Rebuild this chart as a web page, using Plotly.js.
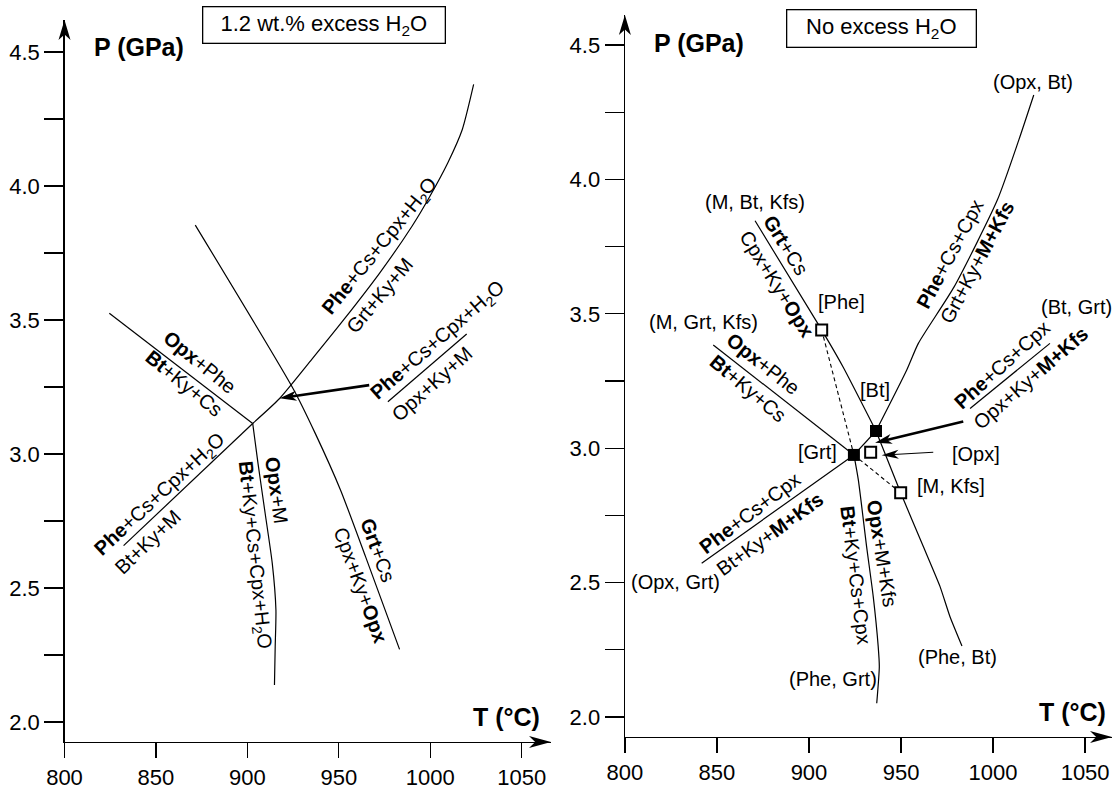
<!DOCTYPE html>
<html><head><meta charset="utf-8">
<script src="https://cdn.plot.ly/plotly-3.0.1.min.js"></script>
<style>html,body{margin:0;padding:0;background:#fff}#chart{width:1117px;height:790px}</style>
</head><body><div id="chart"></div>
<script>
// ---------------- DATA ----------------
const tempTicks = [800, 850, 900, 950, 1000, 1050];
const presTicks = [2.0, 2.25, 2.5, 2.75, 3.0, 3.25, 3.5, 3.75, 4.0, 4.25, 4.5];
const presTickLabels = ['2.0', '', '2.5', '', '3.0', '', '3.5', '', '4.0', '', '4.5'];

// Left panel: 1.2 wt.% excess H2O  (T in °C, P in GPa)
const L_grtKyM_T = [902.9, 917.6, 935.2, 952.8, 972.4, 990.0, 999.8, 1009.6, 1017.5, 1023.7];
const L_grtKyM_P = [3.114, 3.207, 3.353, 3.502, 3.676, 3.850, 3.962, 4.087, 4.211, 4.379];
const L_btKyM_T = [902.9, 832.3];
const L_btKyM_P = [3.114, 2.658];
const L_opxPhe_T = [824.5, 902.9];
const L_opxPhe_P = [3.525, 3.114];
const L_opxM_T = [902.9, 905.8, 909.7, 913.6, 915.6, 915.2, 914.8];
const L_opxM_P = [3.114, 2.965, 2.779, 2.592, 2.418, 2.281, 2.138];
const L_grtCs_T = [871.5, 925.4, 937.1, 950.9, 964.6, 983.2];
const L_grtCs_P = [3.854, 3.239, 3.077, 2.866, 2.617, 2.271];
const L_sep_T = [976.8, 1019.9];
const L_sep_P = [3.195, 3.448];
const L_arrow_T = [966.6, 917.6];
const L_arrow_P = [3.257, 3.208];

// Right panel: no excess H2O
const R_invFilled_T = [924.4, 936.4];       // [Grt], [Bt]
const R_invFilled_P = [2.975, 3.064];
const R_invOpen_T = [906.9, 933.5, 949.8];  // [Phe], [Opx], [M, Kfs]
const R_invOpen_P = [3.440, 2.985, 2.834];
const R_opxBt_T = [936.4, 953.1, 959.4, 978.9, 1002.3, 1014.0, 1022.1];
const R_opxBt_P = [3.064, 3.291, 3.390, 3.601, 3.923, 4.147, 4.314];
const R_mBtKfs_T = [936.4, 918.6, 906.9, 870.7];
const R_mBtKfs_P = [3.064, 3.301, 3.440, 3.846];
const R_mGrtKfs_T = [924.4, 848.0];
const R_mGrtKfs_P = [2.975, 3.384];
const R_opxGrt_T = [924.4, 841.7];
const R_opxGrt_P = [2.975, 2.572];
const R_grtBt_T = [924.4, 936.4];
const R_grtBt_P = [2.975, 3.064];
const R_pheGrt_T = [924.4, 926.8, 931.3, 934.9, 937.6, 938.2, 936.8];
const R_pheGrt_P = [2.975, 2.882, 2.634, 2.448, 2.262, 2.187, 2.051];
const R_pheBt_T = [936.4, 949.8, 962.1, 971.2, 976.6, 983.1];
const R_pheBt_P = [3.064, 2.834, 2.634, 2.485, 2.373, 2.264];
const R_dashPhe_T = [906.9, 924.4];
const R_dashPhe_P = [3.440, 2.975];
const R_dashMKfs_T = [924.4, 949.8];
const R_dashMKfs_P = [2.975, 2.834];
const R_sep_T = [987.5, 1030.9];
const R_sep_P = [3.148, 3.390];
const R_arrowThick_T = [983.8, 935.9];
const R_arrowThick_P = [3.099, 3.020];
const R_arrowThin_T = [967.5, 939.5];
const R_arrowThin_P = [2.985, 2.974];

// Label texts
const L_labels = ['<b>Phe</b>+Cs+Cpx+H<sub>2</sub>O', 'Grt+Ky+M', '<b>Phe</b>+Cs+Cpx+H<sub>2</sub>O', 'Opx+Ky+M',
  '<b>Opx</b>+Phe', '<b>Bt</b>+Ky+Cs', '<b>Phe</b>+Cs+Cpx+H<sub>2</sub>O', 'Bt+Ky+M',
  '<b>Opx</b>+M', '<b>Bt</b>+Ky+Cs+Cpx+H<sub>2</sub>O', '<b>Grt</b>+Cs', 'Cpx+Ky+<b>Opx</b>'];
const R_labels = ['(Opx, Bt)', '(M, Bt, Kfs)', '(M, Grt, Kfs)', '[Phe]', '[Bt]', '[Grt]', '[Opx]', '[M, Kfs]',
  '(Opx, Grt)', '(Phe, Grt)', '(Phe, Bt)', '(Bt, Grt)',
  '<b>Grt</b>+Cs', 'Cpx+Ky+<b>Opx</b>', '<b>Phe</b>+Cs+Cpx', 'Grt+Ky+<b>M+Kfs</b>',
  '<b>Phe</b>+Cs+Cpx', 'Opx+Ky+<b>M+Kfs</b>', '<b>Opx</b>+Phe', '<b>Bt</b>+Ky+Cs',
  '<b>Phe</b>+Cs+Cpx', 'Bt+Ky+<b>M+Kfs</b>', '<b>Opx</b>+M+Kfs', '<b>Bt</b>+Ky+Cs+Cpx'];

// ---------------- PLACEMENT (layout) ----------------
const L_labelPos = [[972.5,3.776,-51],[972.5,3.593,-50],[1004.4,3.425,-41],[1000.8,3.261,-42],
  [874.0,3.344,39],[865.2,3.264,39],[852.4,2.850,-43],[845.5,2.670,-44],
  [915.9,2.865,82],[903.9,2.623,84],[971.3,2.642,70],[961.9,2.511,70]];
const R_labelPos = [[1021.7,4.364,0],[870.7,3.917,0],[842.6,3.471,0],[917.9,3.545,0],[935.8,3.217,0],[904.5,2.987,0],
  [990.8,2.978,0],[977.4,2.859,0],[827.5,2.503,0],[912.9,2.140,0],[980.7,2.222,0],[1045.4,3.526,0],
  [887.4,3.756,58],[882.5,3.610,58],[976.6,3.722,-62],[991.5,3.691,-62],
  [1004.7,3.310,-42],[1020.5,3.260,-41],[875.2,3.313,38],[866.6,3.223,40],
  [867.9,2.758,-37],[878.8,2.680,-36],[939.5,2.609,81],[925.4,2.528,83]];

const W = 1117, H = 790;
const AX = {
  x:  {dom: [64.5 / W, 551 / W], rng: [800, 1066]},
  y:  {dom: [1 - 742 / H, 1 - 20 / H], rng: [1.9254, 4.6194]},
  x2: {dom: [624.9 / W, 1112 / W], rng: [800, 1064.6]},
  y2: {dom: [1 - 737 / H, 1 - 15 / H], rng: [1.9256, 4.6116]}
};
function d2px(a, v) { const A = AX[a]; return W * (A.dom[0] + (v - A.rng[0]) / (A.rng[1] - A.rng[0]) * (A.dom[1] - A.dom[0])); }
function d2py(a, v) { const A = AX[a]; return H * (1 - (A.dom[0] + (v - A.rng[0]) / (A.rng[1] - A.rng[0]) * (A.dom[1] - A.dom[0]))); }
function px2d(a, p) { const A = AX[a]; return A.rng[0] + ((p / W) - A.dom[0]) / (A.dom[1] - A.dom[0]) * (A.rng[1] - A.rng[0]); }
function py2d(a, p) { const A = AX[a]; return A.rng[0] + ((1 - p / H) - A.dom[0]) / (A.dom[1] - A.dom[0]) * (A.rng[1] - A.rng[0]); }

const FONT = 'Liberation Sans, Arial, Helvetica, sans-serif';
const traces = [], shapes = [], annotations = [];
const LA = {x: 'x', y: 'y'}, RA = {x: 'x2', y: 'y2'};
const PA = {x: 'paper', y: 'paper'};

function line(T, P, ax, opt) {
  traces.push({type: 'scatter', mode: 'lines', x: T, y: P, xaxis: ax.x, yaxis: ax.y,
    line: Object.assign({color: 'black', width: 1.2}, opt || {}), hoverinfo: 'skip', showlegend: false});
}
function head(ref, ax0, ay0, ux, uy, L, Wd) {
  const nx = -uy, ny = ux;
  const pts = [[0, 0], [-L * ux + Wd / 2 * nx, -L * uy + Wd / 2 * ny], [-0.72 * L * ux, -0.72 * L * uy], [-L * ux - Wd / 2 * nx, -L * uy - Wd / 2 * ny]];
  const path = 'M' + pts.map(p => p[0].toFixed(2) + ',' + (-p[1]).toFixed(2)).join(' L') + ' Z';
  shapes.push({type: 'path', xref: ref.x, yref: ref.y, xsizemode: 'pixel', ysizemode: 'pixel',
    xanchor: ax0, yanchor: ay0, path: path, fillcolor: 'black', line: {width: 0}, layer: 'above'});
}
function arrow(ax, T, P, width, L, Wd) {
  const x0 = d2px(ax.x, T[0]), y0 = d2py(ax.y, P[0]), x1 = d2px(ax.x, T[1]), y1 = d2py(ax.y, P[1]);
  let ux = x1 - x0, uy = y1 - y0; const len = Math.hypot(ux, uy); ux /= len; uy /= len;
  const ex = x1 - 0.7 * L * ux, ey = y1 - 0.7 * L * uy;
  line([T[0], px2d(ax.x, ex)], [P[0], py2d(ax.y, ey)], ax, {width: width});
  head(ax, T[1], P[1], ux, uy, L, Wd);
}
function label(ax, text, pos, size) {
  annotations.push({xref: ax.x, yref: ax.y, x: pos[0], y: pos[1], text: text, textangle: pos[2],
    showarrow: false, xanchor: 'center', yanchor: 'middle', font: {family: FONT, size: size || 20, color: 'black'}});
}

// Left panel lines
line(L_grtKyM_T, L_grtKyM_P, LA, {shape: 'spline', smoothing: 0.6});
line(L_btKyM_T, L_btKyM_P, LA);
line(L_opxPhe_T, L_opxPhe_P, LA);
line(L_opxM_T, L_opxM_P, LA, {shape: 'spline', smoothing: 0.6});
line(L_grtCs_T, L_grtCs_P, LA, {shape: 'spline', smoothing: 0.6});
line(L_sep_T, L_sep_P, LA);
arrow(LA, L_arrow_T, L_arrow_P, 2.6, 17, 10);

// Right panel lines
line(R_opxBt_T, R_opxBt_P, RA, {shape: 'spline', smoothing: 0.6});
line(R_mBtKfs_T, R_mBtKfs_P, RA, {shape: 'spline', smoothing: 0.5});
line(R_mGrtKfs_T, R_mGrtKfs_P, RA);
line(R_opxGrt_T, R_opxGrt_P, RA);
line(R_grtBt_T, R_grtBt_P, RA);
line(R_pheGrt_T, R_pheGrt_P, RA, {shape: 'spline', smoothing: 0.6});
line(R_pheBt_T, R_pheBt_P, RA, {shape: 'spline', smoothing: 0.5});
line(R_dashPhe_T, R_dashPhe_P, RA, {dash: '4px,3px', width: 1.1});
line(R_dashMKfs_T, R_dashMKfs_P, RA, {dash: '4px,3px', width: 1.1});
line(R_sep_T, R_sep_P, RA);
arrow(RA, R_arrowThick_T, R_arrowThick_P, 2.6, 17, 10);
arrow(RA, R_arrowThin_T, R_arrowThin_P, 1.2, 17, 9);

traces.push({type: 'scatter', mode: 'markers', x: R_invFilled_T, y: R_invFilled_P, xaxis: 'x2', yaxis: 'y2',
  marker: {symbol: 'square', size: 12, color: 'black', line: {width: 0}}, hoverinfo: 'skip', showlegend: false});
traces.push({type: 'scatter', mode: 'markers', x: R_invOpen_T, y: R_invOpen_P, xaxis: 'x2', yaxis: 'y2',
  marker: {symbol: 'square', size: 11, color: 'white', line: {width: 2, color: 'black'}}, hoverinfo: 'skip', showlegend: false});

// Axis arrowheads (paper-referenced so they are not clipped)
head(PA, AX.x.dom[1], AX.y.dom[0], 1, 0, 22, 12);
head(PA, AX.x.dom[0], AX.y.dom[1], 0, -1, 20, 12);
head(PA, AX.x2.dom[1], AX.y2.dom[0], 1, 0, 22, 12);
head(PA, AX.x2.dom[0], AX.y2.dom[1], 0, -1, 20, 12);

// Labels
L_labels.forEach((t, i) => label(LA, t, L_labelPos[i]));
R_labels.forEach((t, i) => label(RA, t, R_labelPos[i]));

// Titles / axis names
function paperText(text, x, y, size, box, w, h) {
  const a = {xref: 'paper', yref: 'paper', x: x, y: y, text: text, showarrow: false, xanchor: 'center', yanchor: 'middle',
    font: {family: FONT, size: size, color: 'black'}};
  if (box) Object.assign(a, {bordercolor: 'black', borderwidth: 1.3, borderpad: 5, bgcolor: 'white', width: w, height: h});
  annotations.push(a);
}
paperText('1.2 wt.% excess H<sub>2</sub>O', 324.3 / W, 1 - 25.5 / H, 22, true, 231, 25);
paperText('No excess H<sub>2</sub>O', 881.5 / W, 1 - 29 / H, 22, true, 178, 26);
paperText('<b>P (GPa)</b>', 139 / W, 1 - 47 / H, 25);
paperText('<b>P (GPa)</b>', 699 / W, 1 - 43 / H, 25);
paperText('<b>T (°C)</b>', 506 / W, 1 - 717 / H, 25);
paperText('<b>T (°C)</b>', 1072 / W, 1 - 712 / H, 25);

function xAxis(a, anchor) {
  return {domain: AX[a].dom, range: AX[a].rng, anchor: anchor, showline: true, linecolor: 'black', linewidth: 1.3,
    ticks: 'outside', ticklen: 15, tickwidth: 1.3, tickcolor: 'black', tickvals: tempTicks, ticktext: tempTicks.map(String),
    showgrid: false, zeroline: false, fixedrange: true, tickfont: {family: FONT, size: 22, color: 'black'}};
}
function yAxis(a, anchor) {
  return {domain: AX[a].dom, range: AX[a].rng, anchor: anchor, showline: true, linecolor: 'black', linewidth: 1.3,
    ticks: 'outside', ticklen: 19, tickwidth: 1.3, tickcolor: 'black', tickvals: presTicks, ticktext: presTickLabels,
    showgrid: false, zeroline: false, fixedrange: true, tickfont: {family: FONT, size: 22, color: 'black'}};
}

const layout = {
  width: W, height: H, margin: {l: 0, r: 0, t: 0, b: 0}, paper_bgcolor: 'white', plot_bgcolor: 'white',
  showlegend: false, xaxis: xAxis('x', 'y'), yaxis: yAxis('y', 'x'), xaxis2: xAxis('x2', 'y2'), yaxis2: yAxis('y2', 'x2'),
  shapes: shapes, annotations: annotations
};
Plotly.newPlot('chart', traces, layout, {staticPlot: true, displayModeBar: false});
</script>
</body></html>
